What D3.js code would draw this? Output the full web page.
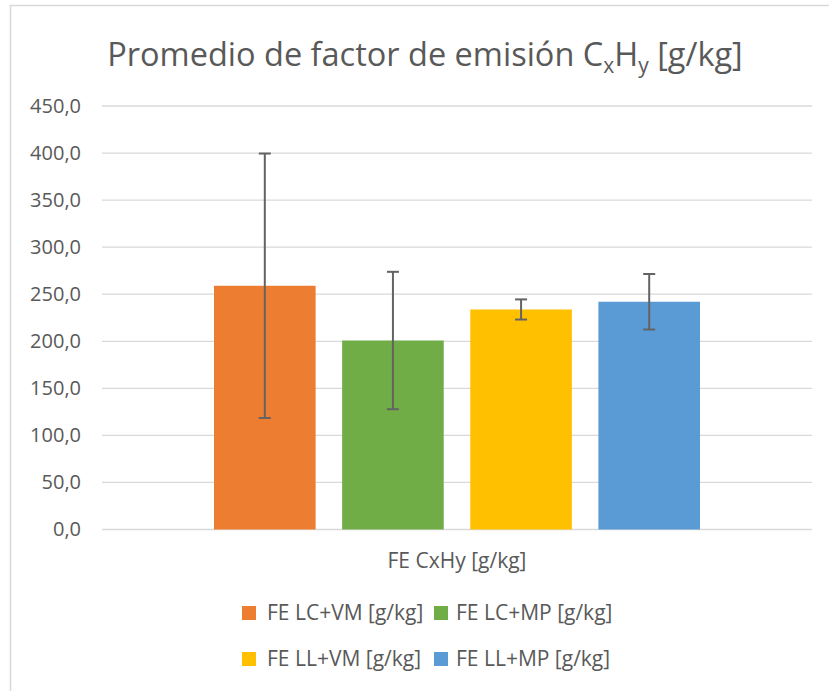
<!doctype html>
<html>
<head>
    <style>
        body { margin: 0; background: #fff; }
        text { font-family: "Open Sans", sans-serif; fill: #595959; }
        .grid line { stroke: #d9d9d9; stroke-width: 1.3; }
        .err { stroke: #636363; stroke-width: 2; }
    </style>
    <script src="https://d3js.org/d3.v7.min.js"></script>
</head>
<body>
<svg width="829" height="691"></svg>
<script>
    // data
    var categories = ["FE CxHy [g/kg]"];
    var series = ["FE LC+VM [g/kg]", "FE LC+MP [g/kg]", "FE LL+VM [g/kg]", "FE LL+MP [g/kg]"];
    var means = [259.0, 200.8, 233.8, 242.0];
    var errors = [140.5, 73.0, 10.7, 29.5];
    var colors = ["#ED7D31", "#70AD47", "#FFC000", "#5B9BD5"];
    var yTicks = [0, 50, 100, 150, 200, 250, 300, 350, 400, 450];

    var svg = d3.select("svg");

    // chart border (only top and left visible in the crop)
    svg.append("rect")
       .attr("x", 10.5).attr("y", 5.5)
       .attr("width", 900).attr("height", 800)
       .attr("fill", "none")
       .attr("stroke", "#d9d9d9")
       .attr("stroke-width", 1.5);

    var plotLeft = 102, plotRight = 812, plotTop = 106, plotBottom = 529.5;

    var x0 = d3.scaleBand().domain(categories).range([plotLeft, plotRight]);
    var x1 = d3.scaleBand().domain(series)
               .range([112, x0.bandwidth() - 112])
               .paddingInner(0.207);
    var y = d3.scaleLinear().domain([0, 450]).range([plotBottom, plotTop]);

    // title with subscripts
    var title = svg.append("text")
       .attr("x", 425).attr("y", 66)
       .attr("text-anchor", "middle")
       .style("font-size", "32.5px");
    title.append("tspan").text("Promedio de factor de emisión C");
    title.append("tspan").text("x").attr("dy", 7).style("font-size", "21px");
    title.append("tspan").text("H").attr("dy", -7);
    title.append("tspan").text("y").attr("dy", 7).style("font-size", "21px");
    title.append("tspan").text(" [g/kg]").attr("dy", -7);

    // gridlines
    svg.append("g").attr("class", "grid")
       .selectAll("line")
       .data(yTicks)
       .enter().append("line")
       .attr("x1", plotLeft).attr("x2", plotRight)
       .attr("y1", function(d) { return y(d); })
       .attr("y2", function(d) { return y(d); });

    // y axis labels
    var yAxis = svg.append("g")
       .attr("transform", "translate(" + plotLeft + ",0)")
       .call(d3.axisLeft(y).tickValues(yTicks)
           .tickFormat(function(d) { return d3.format(".1f")(d).replace(".", ","); })
           .tickSize(0).tickPadding(21));
    yAxis.select(".domain").remove();
    yAxis.selectAll("text")
         .style("font-size", "20px")
         .attr("fill", "#595959")
         .style("font-family", "'Open Sans', sans-serif");

    var g = svg.append("g")
       .attr("transform", "translate(" + x0(categories[0]) + ",0)");

    // bars
    g.selectAll(".bar")
     .data(series)
     .enter().append("rect")
     .attr("class", "bar")
     .attr("x", function(d) { return x1(d); })
     .attr("y", function(d, i) { return y(means[i]); })
     .attr("width", x1.bandwidth())
     .attr("height", function(d, i) { return y(0) - y(means[i]); })
     .attr("fill", function(d, i) { return colors[i]; });

    // error bars
    var eb = g.selectAll(".eb")
     .data(series)
     .enter().append("g")
     .attr("class", "err");
    eb.append("line")
      .attr("x1", function(d) { return x1(d) + x1.bandwidth() / 2; })
      .attr("x2", function(d) { return x1(d) + x1.bandwidth() / 2; })
      .attr("y1", function(d, i) { return y(means[i] + errors[i]); })
      .attr("y2", function(d, i) { return y(means[i] - errors[i]); });
    [1, -1].forEach(function(s) {
        eb.append("line")
          .attr("x1", function(d) { return x1(d) + x1.bandwidth() / 2 - 6; })
          .attr("x2", function(d) { return x1(d) + x1.bandwidth() / 2 + 6; })
          .attr("y1", function(d, i) { return y(means[i] + s * errors[i]); })
          .attr("y2", function(d, i) { return y(means[i] + s * errors[i]); });
    });

    // category label
    svg.append("text")
       .attr("x", x0(categories[0]) + x0.bandwidth() / 2)
       .attr("y", 568)
       .attr("text-anchor", "middle")
       .style("font-size", "21px")
       .text(categories[0]);

    // legend, two rows of two
    var legendX = [242, 434], legendTextX = [267, 456], legendY = [613, 659];
    var leg = svg.selectAll(".leg")
       .data(series)
       .enter().append("g")
       .attr("class", "leg");
    leg.append("rect")
       .attr("x", function(d, i) { return legendX[i % 2]; })
       .attr("y", function(d, i) { return legendY[Math.floor(i / 2)] - 7; })
       .attr("width", 14).attr("height", 14)
       .attr("fill", function(d, i) { return colors[i]; });
    leg.append("text")
       .attr("x", function(d, i) { return legendTextX[i % 2]; })
       .attr("y", function(d, i) { return legendY[Math.floor(i / 2)] + 7; })
       .style("font-size", "21px")
       .text(function(d) { return d; });
</script>
</body>
</html>
